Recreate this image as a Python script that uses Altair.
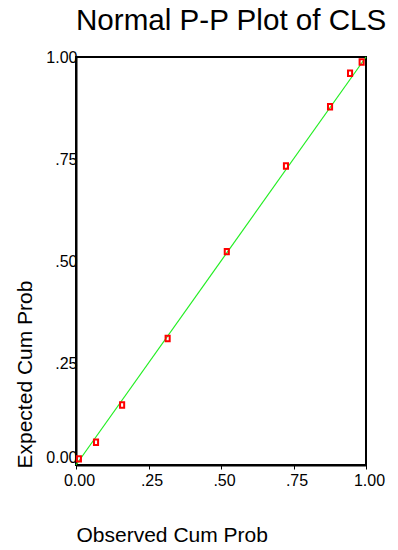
import altair as alt
import pandas as pd

# Observed vs expected cumulative probabilities
obs = [0.010, 0.069, 0.159, 0.316, 0.520, 0.724, 0.876, 0.945, 0.985]
exp = [0.015, 0.056, 0.147, 0.310, 0.523, 0.733, 0.878, 0.960, 0.988]
# reference diagonal
line_x = [0.0, 1.0]
line_y = [0.0, 1.0]
ticks = [0.0, 0.25, 0.5, 0.75, 1.0]

pts = pd.DataFrame({"x": obs, "y": exp})
ref = pd.DataFrame({"x": line_x, "y": line_y})

FONT = "Liberation Sans"
label_expr = ("datum.value == 0 ? '0.00' : datum.value == 1 ? '1.00' : "
              "replace(format(datum.value, '.2f'), '0.', '.')")

xscale = alt.Scale(domain=[0, 1], nice=False, zero=False)
yscale = alt.Scale(domain=[0, 1], nice=False, zero=False)

x_axis = alt.Axis(
    values=ticks, labelExpr=label_expr, grid=False,
    tickSize=4, tickColor="black", tickWidth=1,
    domainColor="black", domainWidth=2,
    labelFont=FONT, labelFontSize=16, labelColor="black",
    labelPadding=3, labelOffset=3, labelFlush=False, labelOverlap=False,
    title="Observed Cum Prob", titleFont=FONT, titleFontSize=21,
    titleFontWeight="normal", titleColor="black",
    titleAnchor="start", titleAlign="left", titleX=0, titleY=76,
    titleBaseline="alphabetic",
)

y_axis = alt.Axis(
    values=ticks, labelExpr=label_expr, grid=False,
    tickSize=0, domainColor="black", domainWidth=2,
    labelFont=FONT, labelFontSize=16, labelColor="black",
    labelPadding=-1, labelFlush=False, labelOverlap=False,
    labelBaseline={"condition": {"test": "datum.value == 0", "value": "bottom"}, "value": "middle"},
    title="Expected Cum Prob", titleFont=FONT, titleFontSize=21,
    titleFontWeight="normal", titleColor="black",
    titleAnchor="start", titleAngle=270, titleAlign="left",
    titleX=-45, titleY=411, titleBaseline="alphabetic",
)

line = alt.Chart(ref).mark_line(color="#22ee22", strokeWidth=1.2).encode(
    x=alt.X("x:Q", scale=xscale, axis=x_axis),
    y=alt.Y("y:Q", scale=yscale, axis=y_axis),
)

points = alt.Chart(pts).mark_point(
    shape="M-0.75,-1H0.75V1H-0.75Z", filled=False, color="#ff0000",
    strokeWidth=2, size=30, opacity=1,
).encode(
    x=alt.X("x:Q", scale=xscale, axis=x_axis),
    y=alt.Y("y:Q", scale=yscale, axis=y_axis),
)

chart = alt.layer(line, points).properties(
    width=290, height=408,
    background="white",
    title=alt.TitleParams("Normal P-P Plot of CLS", font=FONT, fontSize=29.6,
                          fontWeight="normal", color="black", anchor="start",
                          frame="group", offset=12),
    autosize=alt.AutoSizeParams(type="none"),
    padding={"left": 68, "top": 49, "right": 24, "bottom": 80},
).configure_view(stroke="black", strokeWidth=2)

chart.save("out.html", embed_options={"renderer": "svg", "actions": False})
